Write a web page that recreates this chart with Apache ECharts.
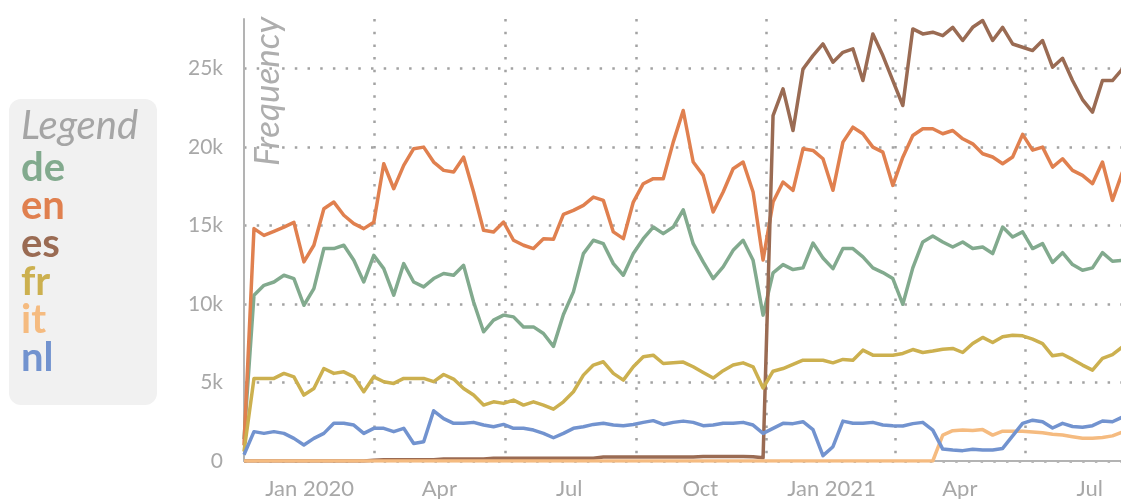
<!DOCTYPE html>
<html lang="en">
<head>
<meta charset="UTF-8">
<title>Frequency by language</title>
<script src="https://cdn.jsdelivr.net/npm/echarts@6/dist/echarts.min.js"></script>
<style>
  html, body { margin: 0; padding: 0; background: #fff; }
  #main { width: 1121px; height: 499px; }
</style>
</head>
<body>
<div id="main"></div>
<script>
// languages and their colours
var langs = ['de', 'en', 'es', 'fr', 'it', 'nl'];
var colors = ['#82aa8e', '#e0804f', '#9a6b53', '#ccb04f', '#f5bb80', '#7293cf'];

// weekly samples, first one on 16 Nov 2019
var startDay = [2019, 10, 16];
var stepDays = 7;

var de = [1400, 10560, 11190, 11400, 11830, 11620, 9920, 10980, 13530, 13530,
  13740, 12780, 11400, 13100, 12250, 10560, 12570, 11400, 11090, 11620,
  11940, 11830, 12460, 10130, 8230, 8970, 9290, 9180, 8540, 8540,
  8120, 7300, 9330, 10770, 13210, 14060, 13840, 12570, 11830, 13210,
  14160, 14900, 14480, 14900, 16000, 13840, 12680, 11620, 12360, 13420,
  14060, 12780, 9290, 11980, 12510, 12190, 12300, 13880, 12930, 12250,
  13530, 13530, 13000, 12300, 12000, 11620, 9980, 12300, 13950, 14330,
  13950, 13630, 13950, 13530, 13630, 13210, 14900, 14270, 14590, 13530,
  13840, 12640, 13270, 12510, 12150, 12300, 13270, 12720, 12780];
var en = [1000, 14800, 14370, 14630, 14900, 15200, 12680, 13740, 16070, 16490,
  15650, 15120, 14800, 15200, 18930, 17340, 18830, 19890, 19990, 19040,
  18510, 18400, 19350, 17130, 14690, 14590, 15220, 14060, 13740, 13530,
  14160, 14120, 15710, 15960, 16280, 16810, 16600, 14590, 14160, 16490,
  17660, 17980, 17980, 20310, 22320, 19040, 18190, 15860, 17130, 18610,
  19040, 17130, 12800, 16490, 17770, 17240, 19880, 19780, 19250, 17240,
  20310, 21260, 20840, 19990, 19670, 17550, 19350, 20730, 21160, 21160,
  20840, 21050, 20520, 20200, 19570, 19360, 18930, 19360, 20800, 19800,
  19990, 18720, 19250, 18510, 18190, 17660, 19040, 16600, 18400];
var es = [0, 0, 0, 0, 0, 0, 0, 0, 0, 0,
  0, 0, 0, 50, 80, 80, 80, 80, 80, 80,
  130, 130, 130, 130, 130, 180, 180, 180, 180, 180,
  180, 180, 180, 180, 180, 180, 250, 250, 250, 250,
  250, 250, 250, 250, 250, 250, 280, 280, 280, 280,
  280, 270, 200, 22000, 23700, 21050, 24970, 25820, 26560, 25400,
  26030, 26250, 24230, 27200, 25820, 24230, 22640, 27520, 27200, 27310,
  27090, 27620, 26780, 27620, 28050, 26780, 27620, 26560, 26350, 26140,
  26780, 25080, 25650, 24230, 23020, 22220, 24230, 24230, 24970];
var fr = [600, 5260, 5260, 5260, 5580, 5360, 4200, 4620, 5890, 5580,
  5680, 5360, 4410, 5360, 5050, 4940, 5260, 5260, 5260, 5050,
  5510, 5220, 4620, 4200, 3560, 3770, 3670, 3880, 3560, 3770,
  3560, 3300, 3770, 4410, 5470, 6110, 6320, 5580, 5150, 6000,
  6640, 6740, 6210, 6250, 6300, 6000, 5640, 5280, 5750, 6110,
  6250, 6000, 4650, 5720, 5890, 6150, 6420, 6420, 6420, 6250,
  6470, 6420, 7060, 6740, 6740, 6740, 6850, 7100, 6910, 7000,
  7120, 7170, 6910, 7480, 7870, 7550, 7910, 8010, 7970, 7760,
  7480, 6700, 6800, 6470, 6110, 5790, 6530, 6780, 7270];
var it = [0, 0, 0, 0, 0, 0, 0, 0, 0, 0,
  0, 0, 0, 0, 0, 0, 0, 0, 0, 0,
  0, 0, 0, 0, 0, 0, 0, 0, 0, 0,
  0, 0, 0, 0, 0, 0, 0, 0, 0, 0,
  0, 0, 0, 0, 0, 0, 0, 0, 0, 0,
  0, 0, 0, 0, 0, 0, 0, 0, 0, 0,
  0, 0, 0, 0, 0, 0, 0, 0, 0, 0,
  1650, 1930, 1970, 1950, 2000, 1650, 1900, 1900, 1900, 1850,
  1800, 1700, 1650, 1550, 1450, 1450, 1500, 1600, 1850];
var nl = [400, 1870, 1760, 1870, 1760, 1440, 1020, 1440, 1760, 2400,
  2400, 2290, 1760, 2080, 2080, 1870, 2080, 1120, 1230, 3200,
  2700, 2400, 2400, 2460, 2290, 2180, 2330, 2080, 2080, 1970,
  1760, 1480, 1760, 2080, 2180, 2330, 2400, 2290, 2250, 2330,
  2460, 2570, 2330, 2460, 2540, 2460, 2250, 2290, 2400, 2400,
  2460, 2290, 1760, 2080, 2400, 2380, 2500, 2000, 340, 910,
  2540, 2400, 2400, 2460, 2290, 2250, 2230, 2380, 2460, 1970,
  760, 700, 660, 750, 700, 700, 800, 1600, 2400, 2600,
  2500, 2100, 2400, 2200, 2150, 2250, 2550, 2500, 2800];

var values = [de, en, es, fr, it, nl];

// axis marks
var xStart = '2019-11-16';
var xEnd = '2021-07-23';
var labelDates = ['2020-01-01', '2020-04-01', '2020-07-01', '2020-10-01',
  '2021-01-01', '2021-04-01', '2021-07-01'];
var gridDates = ['2020-02-15', '2020-05-17', '2020-08-17', '2020-11-16',
  '2021-02-15', '2021-05-17'];
var yTicks = [0, 5000, 10000, 15000, 20000, 25000];
var yMax = 28150;

var monthNames = ['Jan', 'Feb', 'Mar', 'Apr', 'May', 'Jun', 'Jul', 'Aug', 'Sep', 'Oct', 'Nov', 'Dec'];

function toTime(s) {
  var p = s.split('-');
  return new Date(+p[0], +p[1] - 1, +p[2]).getTime();
}

var dates = [];
for (var i = 0; i < de.length; i++) {
  dates.push(new Date(startDay[0], startDay[1], startDay[2] + stepDays * i).getTime());
}

var gray = '#a8a8a8';
var dotted = { type: [2.5, 10.2], width: 2.5, color: '#a3a3a3', cap: 'butt' };

var series = langs.map(function (name, k) {
  return {
    name: name,
    type: 'line',
    symbol: 'none',
    showSymbol: false,
    animation: false,
    color: colors[k],
    lineStyle: { width: 3.5, color: colors[k], join: 'round' },
    data: dates.map(function (t, i) { return [t, values[k][i]]; })
  };
});

var chart = echarts.init(document.getElementById('main'));
chart.setOption({
  animation: false,
  grid: { left: 244, right: 0, top: 19, bottom: 38, outerBoundsMode: 'none' },
  title: {
    text: 'Legend',
    left: 16,
    top: 101,
    textStyle: { fontFamily: 'Lato', fontStyle: 'italic', fontWeight: 'normal', fontSize: 40, color: '#a5a5a5' }
  },
  legend: {
    orient: 'vertical',
    left: 11,
    top: 143,
    icon: 'none',
    itemWidth: 0,
    itemHeight: 0,
    itemGap: -2,
    selectedMode: false,
    textStyle: { fontFamily: 'Lato', fontWeight: 'bold', fontSize: 40 },
    data: langs.map(function (n, k) { return { name: n, textStyle: { color: colors[k] } }; })
  },
  graphic: [
    {
      type: 'rect', left: 9, top: 99, z: 0, silent: true,
      shape: { width: 148, height: 306, r: 12 },
      style: { fill: '#f1f1f1' }
    },
    {
      type: 'text', x: 250, y: 166, rotation: Math.PI / 2, z: 10, silent: true,
      style: {
        text: 'Frequency', fill: '#aeaeae', align: 'left', verticalAlign: 'top',
        fontFamily: 'Lato', fontStyle: 'italic', fontSize: 35
      }
    }
  ],
  xAxis: {
    type: 'value',
    min: toTime(xStart),
    max: toTime(xEnd),
    axisLine: { show: true, lineStyle: { color: '#b3b3b3', width: 2 } },
    axisTick: { show: false, customValues: gridDates.map(toTime) },
    splitLine: { show: true, lineStyle: dotted },
    axisLabel: {
      customValues: labelDates.map(toTime),
      color: gray,
      fontFamily: 'Lato',
      fontSize: 22,
      margin: 17,
      hideOverlap: false,
      formatter: function (v) {
        var d = new Date(v);
        var m = monthNames[d.getMonth()];
        return d.getMonth() === 0 ? m + ' ' + d.getFullYear() : m;
      }
    }
  },
  yAxis: {
    type: 'value',
    min: 0,
    max: yMax,
    axisLine: { show: true, lineStyle: { color: '#b3b3b3', width: 2 } },
    axisTick: { show: false, customValues: yTicks },
    splitLine: { show: true, lineStyle: dotted },
    axisLabel: {
      customValues: yTicks,
      color: gray,
      fontFamily: 'Lato',
      fontSize: 21,
      margin: 21,
      formatter: function (v) { return v === 0 ? '0' : (v / 1000) + 'k'; }
    }
  },
  series: series
});
</script>
</body>
</html>
